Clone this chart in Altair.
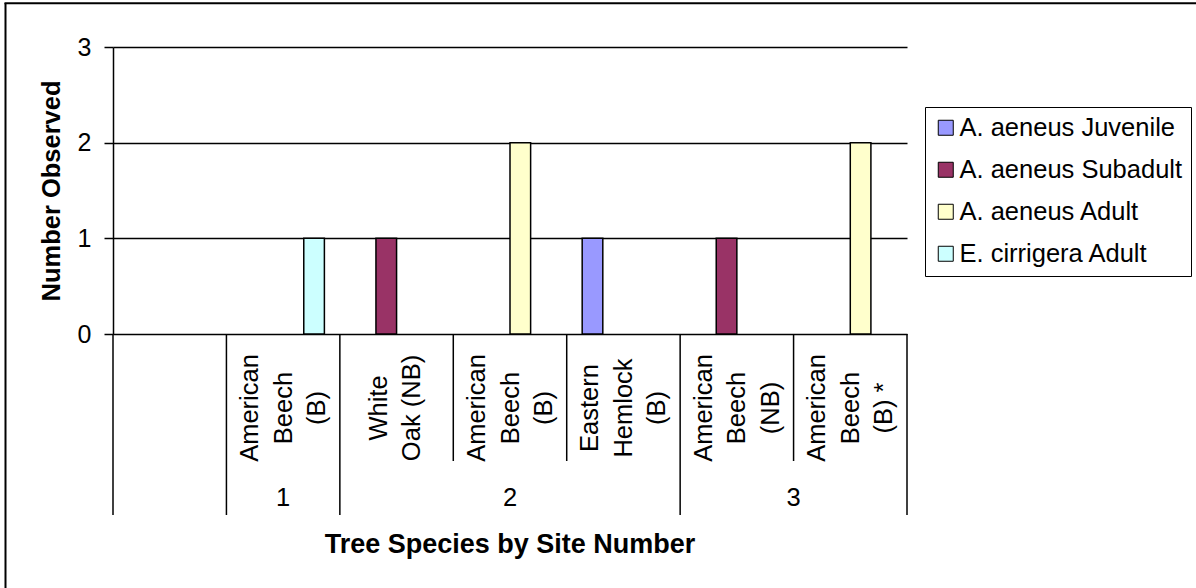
import altair as alt
import pandas as pd

# ---- data -------------------------------------------------------------
slot_ids = ["s0", "s1", "s2", "s3", "s4", "s5", "s6"]
tree_labels = [
    "",
    "American\nBeech\n(B)",
    "White\nOak (NB)",
    "American\nBeech\n(B)",
    "Eastern\nHemlock\n(B)",
    "American\nBeech\n(NB)",
    "American\nBeech\n(B) *",
]
site_numbers = ["", "1", "2", "2", "2", "3", "3"]

series_names = [
    "A. aeneus Juvenile",
    "A. aeneus Subadult",
    "A. aeneus Adult",
    "E. cirrigera Adult",
]
series_colors = ["#9999FF", "#993366", "#FFFFCC", "#CCFFFF"]

juvenile = [0, 0, 0, 0, 1, 0, 0]
subadult = [0, 0, 1, 0, 0, 1, 0]
adult = [0, 0, 0, 2, 0, 0, 2]
cirrigera = [0, 1, 0, 0, 0, 0, 0]

y_ticks = [0, 1, 2, 3]
y_title = "Number Observed"
x_title = "Tree Species by Site Number"

FONT = "Liberation Sans"

# ---- tables -----------------------------------------------------------
cats = pd.DataFrame(
    {"slot": slot_ids, "tree": tree_labels, "site": site_numbers,
     "idx": list(range(len(slot_ids)))}
)

bars = pd.DataFrame(
    [
        {"slot": s, "series": name, "count": v}
        for name, vals in zip(series_names, [juvenile, subadult, adult, cirrigera])
        for s, v in zip(slot_ids, vals)
    ]
)

# category boundaries: long where the site changes, short inside a site
edges = []
for b in range(len(slot_ids) + 1):
    left = site_numbers[b - 1] if b > 0 else None
    right = site_numbers[b] if b < len(slot_ids) else None
    edges.append({"pos": b, "kind": "group" if left != right else "inner"})
edges = pd.DataFrame(edges)

W, H = 794, 287
LH = 33.5  # line height of the rotated tree names

x_band = alt.Scale(type="band", domain=slot_ids, paddingInner=0, paddingOuter=0)
x_lin = alt.Scale(domain=[0, len(slot_ids)], nice=False, zero=False)
y_scale = alt.Scale(domain=[0, 3], nice=False)

# ---- ordinal layers: bars and tree names ------------------------------
bar_layer = (
    alt.Chart(bars)
    .transform_filter("datum.count > 0")
    .mark_bar(stroke="black", strokeWidth=1.5)
    .encode(
        x=alt.X("slot:N", scale=x_band, axis=None),
        xOffset=alt.XOffset(
            "series:N",
            scale=alt.Scale(domain=series_names, paddingInner=0, paddingOuter=0.75),
        ),
        y=alt.Y(
            "count:Q",
            scale=y_scale,
            axis=alt.Axis(
                values=y_ticks, grid=True, gridColor="black", gridWidth=1.5,
                domainColor="black", domainWidth=1.5, tickColor="black",
                tickWidth=1.5, tickSize=9, labelFont=FONT, labelFontSize=25,
                labelColor="black", labelPadding=13, title=y_title,
                titleFont=FONT, titleFontSize=25.5, titleFontWeight="bold",
                titleColor="black", titlePadding=13,
            ),
        ),
        color=alt.Color(
            "series:N",
            scale=alt.Scale(domain=series_names, range=series_colors),
            legend=alt.Legend(
                title=None, orient="none", legendX=812, legendY=60,
                strokeColor="black", fillColor="white", padding=8,
                symbolType="square", symbolSize=225, symbolStrokeColor="black",
                symbolStrokeWidth=1, symbolOpacity=1, labelFont=FONT,
                labelFontSize=25.5, labelColor="black", labelOffset=1,
                labelLimit=400, rowPadding=15,
            ),
        ),
    )
)


def tree_names(n_lines, shift):
    """Rotated tree names with n_lines lines, centred across their slot."""
    return (
        alt.Chart(cats)
        .transform_calculate(nl="length(split(datum.tree, '\\n'))")
        .transform_filter(f"datum.tree != '' && datum.nl == {n_lines}")
        .mark_text(
            angle=270, align="center", baseline="middle", lineBreak="\n",
            font=FONT, fontSize=25.5, lineHeight=LH, color="black", dy=shift,
        )
        .encode(x=alt.X("slot:N", scale=x_band, axis=None), y=alt.value(361), text="tree:N")
    )


ordinal = alt.layer(bar_layer, tree_names(3, -33), tree_names(2, -18))

# ---- linear layers: boundaries, site numbers, axis title ---------------
long_div = (
    alt.Chart(edges)
    .transform_filter("datum.kind == 'group'")
    .mark_rule(color="black", strokeWidth=1.5)
    .encode(x=alt.X("pos:Q", scale=x_lin, axis=None), y=alt.value(H), y2=alt.value(468))
)
short_div = (
    alt.Chart(edges)
    .transform_filter("datum.kind == 'inner'")
    .mark_rule(color="black", strokeWidth=1.5)
    .encode(x=alt.X("pos:Q", scale=x_lin, axis=None), y=alt.value(H), y2=alt.value(414))
)
site_layer = (
    alt.Chart(cats)
    .transform_filter("datum.site != ''")
    .transform_aggregate(lo="min(idx)", hi="max(idx)", groupby=["site"])
    .transform_calculate(center="(datum.lo + datum.hi + 1) / 2")
    .mark_text(font=FONT, fontSize=25.5, color="black", baseline="middle")
    .encode(x=alt.X("center:Q", scale=x_lin, axis=None), y=alt.value(451), text="site:N")
)
x_title_layer = (
    alt.Chart(pd.DataFrame({"title": [x_title]}))
    .mark_text(font=FONT, fontSize=27, fontWeight="bold", color="black", baseline="middle")
    .encode(x=alt.value(W / 2), y=alt.value(498), text="title:N")
)

linear = alt.layer(long_div, short_div, site_layer, x_title_layer)

# ---- outer frame (top and left edges) ---------------------------------
frame_src = pd.DataFrame({"edge": ["frame"]})
frame_left = alt.Chart(frame_src).mark_rule(color="black", strokeWidth=2).encode(
    x=alt.value(-107.5), y=alt.value(-44), y2=alt.value(545)
)
frame_top = alt.Chart(frame_src).mark_rule(color="black", strokeWidth=2).encode(
    x=alt.value(-108.5), x2=alt.value(1090), y=alt.value(-43.7)
)

chart = (
    alt.layer(ordinal, linear, frame_left, frame_top)
    .resolve_scale(x="independent")
    .properties(
        width=W,
        height=H,
        padding={"left": 113, "top": 47, "right": 1196 - 113 - W, "bottom": 588 - 47 - H},
        autosize=alt.AutoSizeParams(type="none"),
        background="white",
    )
    .configure_view(stroke=None)
)

chart.save("out.html", embed_options={"renderer": "svg", "actions": False})
